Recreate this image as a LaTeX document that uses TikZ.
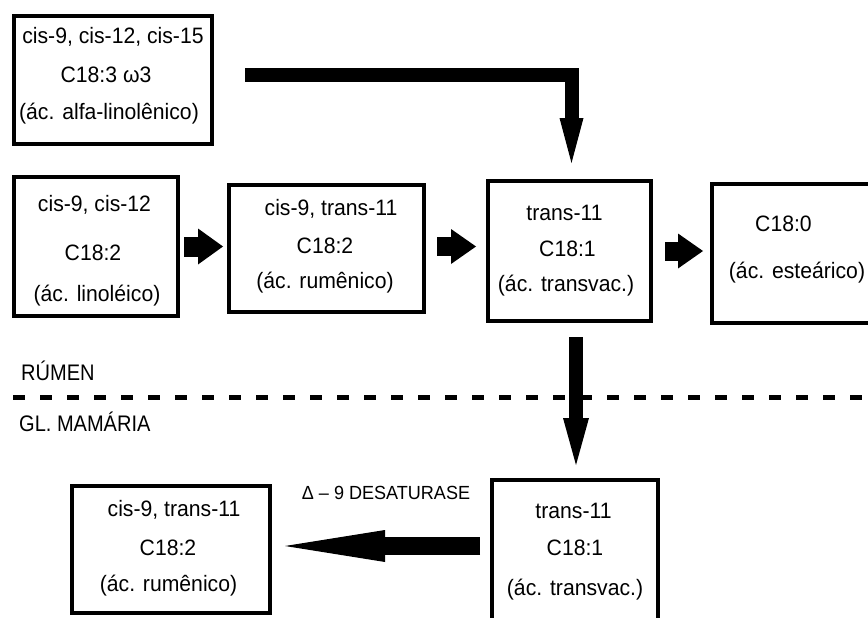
\documentclass[tikz,border=0pt]{standalone}
\usepackage{fontspec}
\setmainfont{Liberation Sans}[FakeStretch=0.95]
\newfontfamily\narrowfont{Liberation Sans}[FakeStretch=0.89]
\usetikzlibrary{arrows.meta,calc}
\tikzset{
  box/.style={draw=black, line width=4pt, rectangle, inner sep=0pt},
  txt/.style={inner sep=0pt, font=\fontsize{22.3}{26}\selectfont, text height=16pt, text depth=0pt, anchor=center},
  lbl/.style={inner sep=0pt, font=\narrowfont\fontsize{22.5}{26}\selectfont, text height=16pt, text depth=0pt, anchor=west},
  small/.style={inner sep=0pt, font=\fontsize{19}{22}\selectfont, text height=13.5pt, text depth=0pt, anchor=center},
  blk/.style={line width=#1, line cap=butt, line join=miter},
  separator/.style={line width=5pt, dash pattern=on 12pt off 15pt}
}
\begin{document}
\begin{tikzpicture}[x=1pt,y=-1pt]
\clip (0,0) rectangle (868,618);
\fill[white] (0,0) rectangle (868,618);

% boxes
\node[box, minimum width=198pt, minimum height=128pt] (box1) at (113,80) {};
\node[box, minimum width=164pt, minimum height=139pt] (boxA) at (96,246.5) {};
\node[box, minimum width=195pt, minimum height=127pt] (boxB) at (326.5,248.5) {};
\node[box, minimum width=163pt, minimum height=140pt] (boxC) at (569.5,251) {};
\node[box, minimum width=216pt, minimum height=139pt] (boxD) at (820,253.5) {};
\node[box, minimum width=198pt, minimum height=127pt] (boxE) at (171,549.5) {};
\node[box, minimum width=166pt, minimum height=198pt] (boxF) at (575,579) {};

% texts
\node[txt] (t1a) at (113,36) {cis-9, cis-12, cis-15};
\node[txt] (t1b) at (106,75) {C18:3 ω3};
\node[txt] (t1c) at (109,112) {(ác. alfa-linolênico)};

\node[txt] (tAa) at (94.5,203) {cis-9, cis-12};
\node[txt] (tAb) at (93,252) {C18:2};
\node[txt] (tAc) at (97,293) {(ác. linoléico)};

\node[txt] (tBa) at (331,207) {cis-9, trans-11};
\node[txt] (tBb) at (325,245) {C18:2};
\node[txt] (tBc) at (325,280) {(ác. rumênico)};

\node[txt] (tCa) at (564.5,212) {trans-11};
\node[txt] (tCb) at (567.5,248) {C18:1};
\node[txt] (tCc) at (566,283) {(ác. transvac.)};

\node[txt] (tDa) at (783.5,223) {C18:0};
\node[txt] (tDb) at (797,270) {(ác. esteárico)};

\node[txt] (tEa) at (174,508) {cis-9, trans-11};
\node[txt] (tEb) at (168,547) {C18:2};
\node[txt] (tEc) at (168.5,583) {(ác. rumênico)};

\node[txt] (tFa) at (573.5,510) {trans-11};
\node[txt] (tFb) at (575,547) {C18:1};
\node[txt] (tFc) at (575,587) {(ác. transvac.)};

\node[lbl] (rumen) at (21,372) {RÚMEN};
\node[lbl] (mamaria) at (19,423) {GL. MAMÁRIA};
\node[small] (desat) at (386,493) {Δ – 9 DESATURASE};

% separator
\coordinate (sepL) at (13,397);
\coordinate (sepR) at (868,397);
\draw[separator] (sepL) -- (sepR);

% arrows
\coordinate (topstart) at (245,75);
\draw[blk=14pt, -{Triangle[width=24pt,length=45pt,line width=0pt]}, shorten >=16pt]
  (topstart) -| ([xshift=2pt]boxC.north);

\draw[blk=20pt, -{Triangle[width=36pt,length=25pt,line width=0pt]}, shorten <=4pt, shorten >=4pt]
  (boxA.east) -- (boxA.east -| boxB.west);
\draw[blk=19pt, -{Triangle[width=35pt,length=25pt,line width=0pt]}, shorten <=11pt, shorten >=10pt]
  ([yshift=2pt]boxB.east) -- ([yshift=2pt]boxB.east -| boxC.west);
\draw[blk=19pt, -{Triangle[width=35pt,length=25pt,line width=0pt]}, shorten <=12pt, shorten >=7pt]
  (boxC.east) -- (boxC.east -| boxD.west);

\draw[blk=14pt, -{Triangle[width=26pt,length=47pt,line width=0pt]}, shorten <=14pt, shorten >=13pt]
  ([xshift=1pt]boxF.north |- boxC.south) -- ([xshift=1pt]boxF.north);

\draw[blk=18pt, -{Triangle[width=32pt,length=100pt,line width=0pt]}, shorten <=10pt, shorten >=13pt]
  ([yshift=3.5pt]boxE.east -| boxF.west) -- ([yshift=3.5pt]boxE.east);
\end{tikzpicture}
\end{document}
